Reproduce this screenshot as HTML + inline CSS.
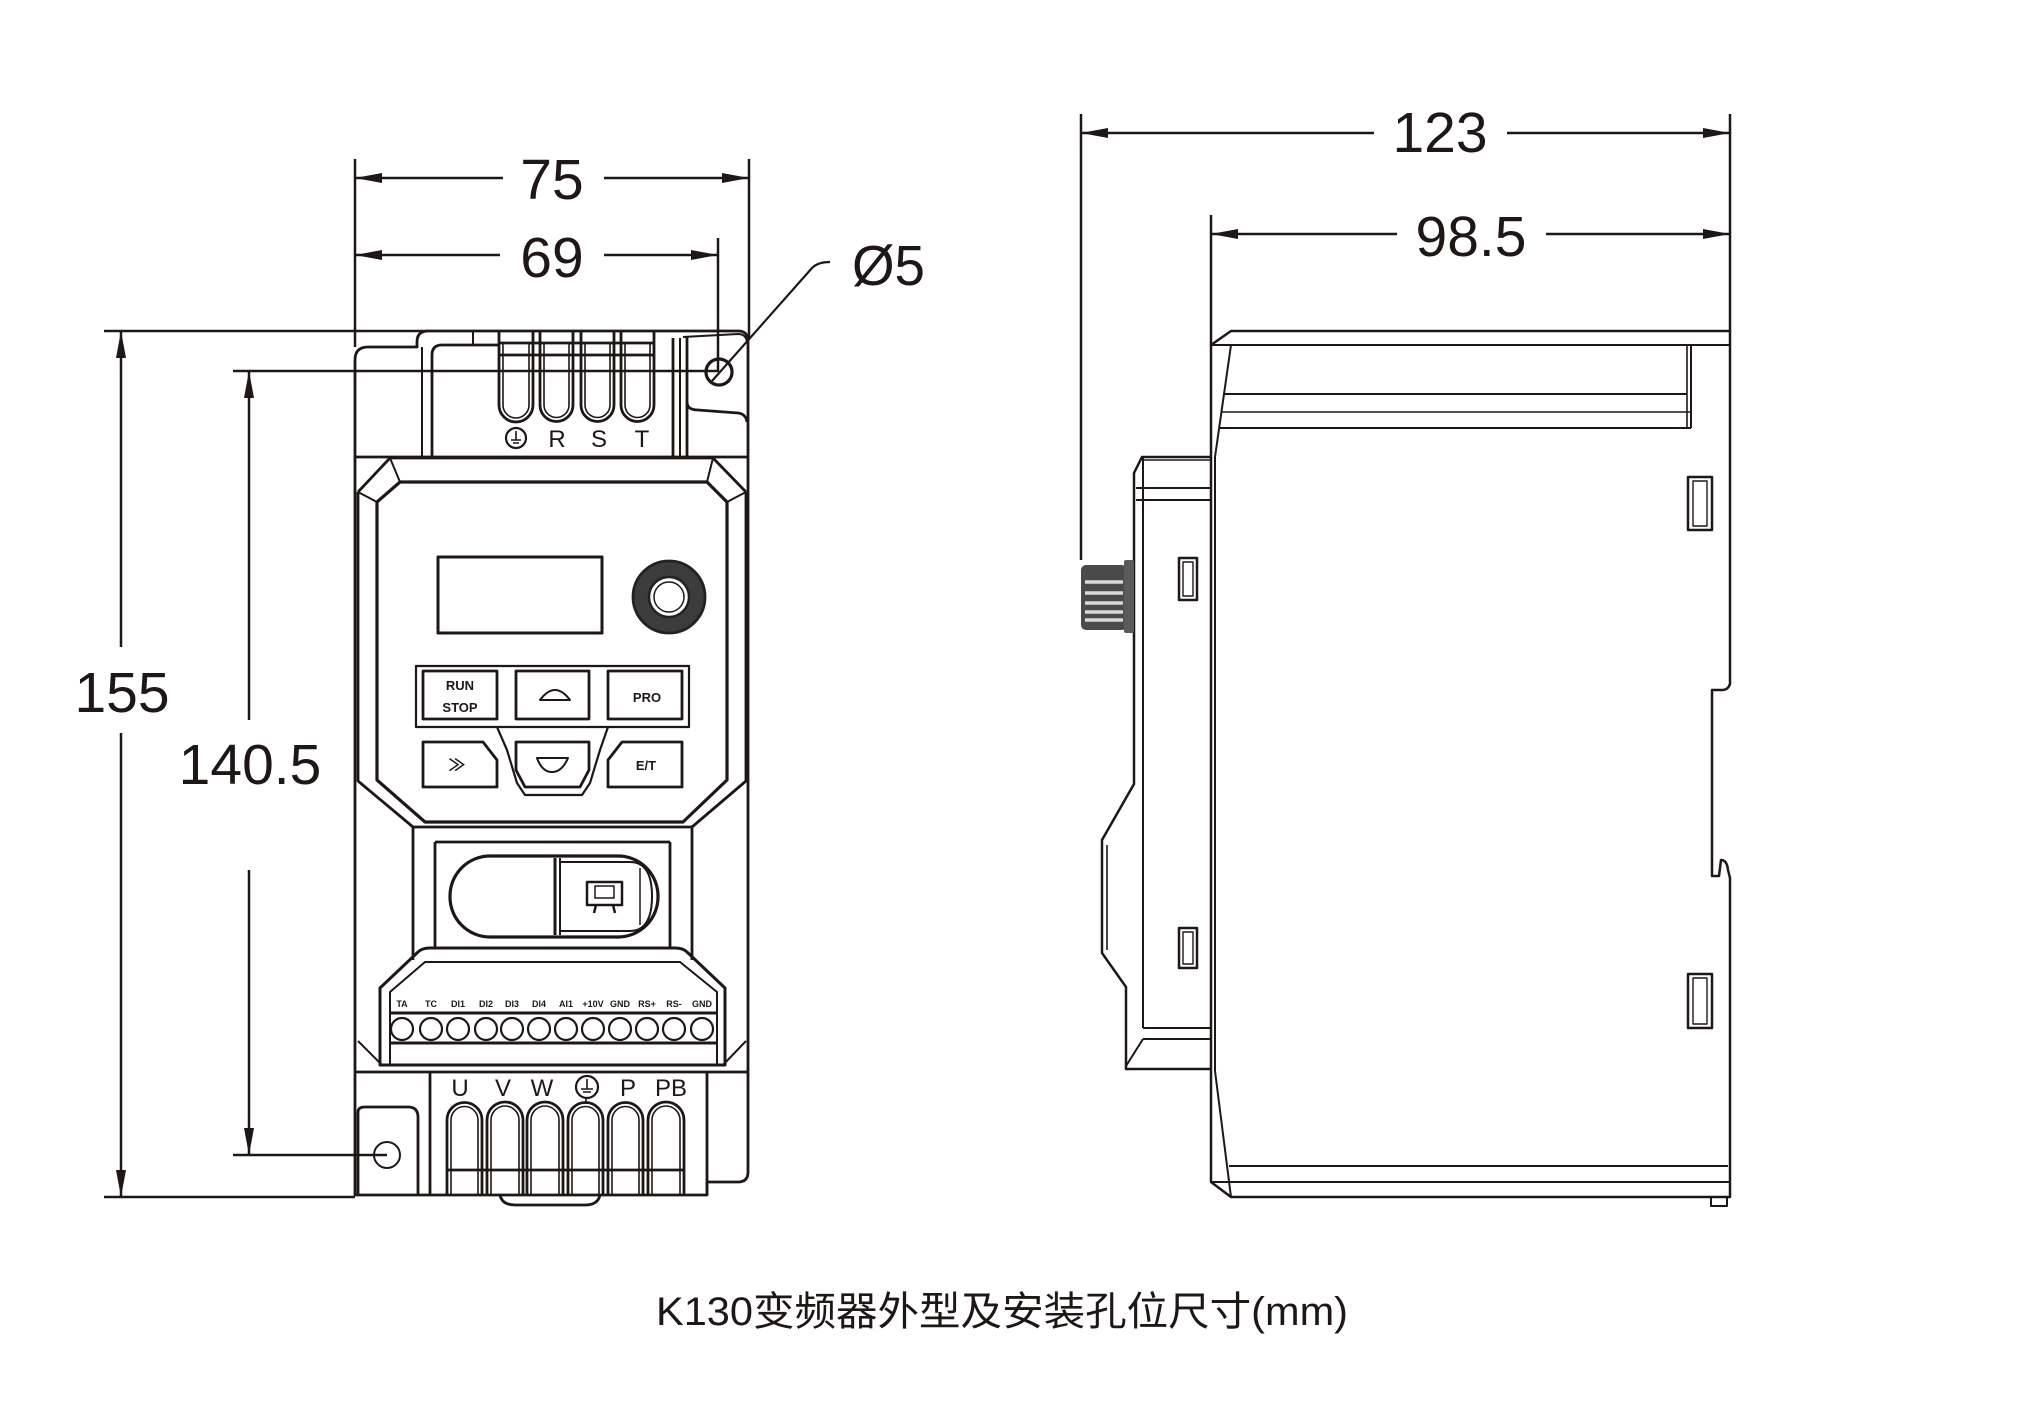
<!DOCTYPE html>
<html><head><meta charset="utf-8"><style>
html,body{margin:0;padding:0;background:#fff;}
svg{display:block;}
text{font-family:"Liberation Sans","Noto Sans CJK SC",sans-serif;fill:#1e1716;}
</style></head><body>
<svg width="2020" height="1418" viewBox="0 0 2020 1418" xmlns="http://www.w3.org/2000/svg">
<rect width="2020" height="1418" fill="#fff"/>
<g stroke="#1e1716" fill="none" stroke-width="2.5" stroke-linejoin="round">
<!-- ===== LEFT VIEW DIMENSIONS ===== -->
<line x1="355" y1="159" x2="355" y2="347"/>
<line x1="749" y1="159" x2="749" y2="338"/>
<line x1="355" y1="178" x2="503" y2="178"/>
<line x1="604" y1="178" x2="749" y2="178"/>
<line x1="355" y1="255" x2="500" y2="255"/>
<line x1="604" y1="255" x2="718" y2="255"/>
<line x1="718" y1="238" x2="718" y2="372"/>
<line x1="104" y1="331" x2="428" y2="331"/>
<line x1="121" y1="331" x2="121" y2="647"/>
<line x1="121" y1="733" x2="121" y2="1197"/>
<line x1="104" y1="1197" x2="355" y2="1197"/>
<line x1="233" y1="371" x2="718" y2="371"/>
<line x1="249" y1="371" x2="249" y2="720"/>
<line x1="249" y1="870" x2="249" y2="1155"/>
<line x1="233" y1="1155" x2="387" y2="1155"/>
<!-- leader -->
<path d="M712,381 L812,268 Q818,262 830,262" stroke-width="2.2"/>
<!-- ===== RIGHT VIEW DIMENSIONS ===== -->
<line x1="1081" y1="114" x2="1081" y2="560"/>
<line x1="1730" y1="114" x2="1730" y2="331"/>
<line x1="1081" y1="133" x2="1374" y2="133"/>
<line x1="1507" y1="133" x2="1730" y2="133"/>
<line x1="1211" y1="215" x2="1211" y2="345"/>
<line x1="1211" y1="234" x2="1397" y2="234"/>
<line x1="1546" y1="234" x2="1730" y2="234"/>
</g>
<!-- arrowheads -->
<g fill="#1e1716">
<polygon points="355,178 382,173 382,183"/>
<polygon points="749,178 722,173 722,183"/>
<polygon points="355,255 382,250 382,260"/>
<polygon points="718,255 691,250 691,260"/>
<polygon points="121,331 116,358 126,358"/>
<polygon points="121,1197 116,1170 126,1170"/>
<polygon points="249,371 244,398 254,398"/>
<polygon points="249,1155 244,1128 254,1128"/>
<polygon points="1081,133 1108,128 1108,138"/>
<polygon points="1730,133 1703,128 1703,138"/>
<polygon points="1211,234 1238,229 1238,239"/>
<polygon points="1730,234 1703,229 1703,239"/>
</g>
<!-- dimension texts -->
<g font-size="57" text-anchor="middle">
<text x="552" y="199">75</text>
<text x="552" y="277">69</text>
<text x="122" y="712">155</text>
<text x="250" y="784">140.5</text>
<text x="1440" y="152">123</text>
<text x="1471" y="256">98.5</text>
</g>
<text x="852" y="285" font-size="57" textLength="73" lengthAdjust="spacingAndGlyphs">Ø5</text>

<!-- ===== LEFT VIEW BODY ===== -->
<g stroke="#1e1716" fill="none" stroke-width="2.8" stroke-linejoin="round">
<path d="M355,1195 L355,360 Q355,347 368,347 L417,347 L417,342 Q417,331 428,331 L738,331 Q748,331 748,341 L748,1172 Q748,1182 738,1182 L707,1182 L707,1195 Z"/>
<path d="M500,1195 Q502,1205 515,1205 L585,1205 Q598,1205 600,1195"/>
<!-- top terminal housing -->
<line x1="422" y1="347" x2="422" y2="457" stroke-width="2"/>
<path d="M432,457 L432,355 Q432,345 442,345 L498,345"/>
<line x1="473" y1="331" x2="473" y2="344" stroke-width="2"/>
<line x1="673" y1="338" x2="673" y2="457"/>
<line x1="680" y1="338" x2="680" y2="457" stroke-width="2"/>
<line x1="687" y1="337" x2="687" y2="457"/>
<path d="M687,402 Q687,410 698,410 L738,413 Q746,414 747,422"/>
<path d="M683,337 L738,334 Q746,334 747,342" stroke-width="2"/>
<!-- slots top -->
<path d="M499,331 V405 A17,17 0 0 0 533,405 V331"/>
<path d="M540,331 V405 A16.5,16.5 0 0 0 573,405 V331"/>
<path d="M581,331 V405 A16.5,16.5 0 0 0 614,405 V331"/>
<path d="M621,331 V405 A16.5,16.5 0 0 0 654,405 V331"/>
<g stroke-width="1.6">
<path d="M503,343 V405 A13,13 0 0 0 529,405 V343"/>
<path d="M544,343 V405 A12.5,12.5 0 0 0 569,405 V343"/>
<path d="M585,343 V405 A12.5,12.5 0 0 0 610,405 V343"/>
<path d="M625,343 V405 A12.5,12.5 0 0 0 650,405 V343"/>
</g>
<line x1="499" y1="343" x2="654" y2="343"/>
<line x1="499" y1="355" x2="654" y2="355"/>
<line x1="355" y1="457" x2="748" y2="457"/>
<!-- mounting hole top -->
<circle cx="719" cy="372" r="13" stroke-width="3.2"/>
<!-- keypad bevel -->
<path d="M358,492 L390,458 L713,458 L746,492"/>
<path d="M358,492 L358,781 L413,827"/>
<path d="M746,492 L746,781 L692,827"/>
<path d="M400,482 L707,482 L727,502 L727,780 L683,822 L425,822 L377,780 L377,502 Z" stroke-width="3.2"/>
<line x1="390" y1="458" x2="400" y2="482" stroke-width="2"/>
<line x1="713" y1="458" x2="707" y2="482" stroke-width="2"/>
<line x1="358" y1="492" x2="377" y2="502" stroke-width="2"/>
<line x1="746" y1="492" x2="727" y2="502" stroke-width="2"/>
<!-- display -->
<rect x="438" y="557" width="164" height="76" stroke-width="3"/>
<!-- button panel -->
<rect x="416" y="666" width="273" height="61" stroke-width="2.2"/>
<rect x="423" y="671" width="74" height="48"/>
<rect x="516" y="671" width="73" height="48"/>
<rect x="608" y="671" width="74" height="48"/>
<path d="M497,727 L507,750 L517,783 L525,795 L582,795 L590,783 L600,750 L608,727" stroke-width="2.2"/>
<path d="M423,742 L483,742 L497,760 L497,787 L423,787 Z"/>
<path d="M516,742 L589,742 L589,770 L580,787 L525,787 L516,770 Z"/>
<path d="M622,742 L682,742 L682,787 L608,787 L608,760 Z"/>
<path d="M540,700 Q555,680 570,700 Z" stroke-width="2"/>
<path d="M537,758 L568,758 Q562,772 552,772 Q542,772 537,758 Z" stroke-width="2"/>
<!-- knob -->
<circle cx="669" cy="597" r="36" fill="#3c3c3c" stroke="#222"/>
<circle cx="669" cy="597" r="20" fill="#fff" stroke="#222" stroke-width="2.5"/>
<circle cx="669" cy="597" r="15" stroke-width="1.5"/>
<!-- neck -->
<line x1="413" y1="827" x2="692" y2="827"/>
<line x1="435" y1="842" x2="670" y2="842"/>
<line x1="413" y1="827" x2="413" y2="960"/>
<line x1="435" y1="842" x2="435" y2="948"/>
<line x1="670" y1="842" x2="670" y2="948"/>
<line x1="692" y1="827" x2="692" y2="960"/>
<!-- pill -->
<rect x="450" y="856" width="208" height="81" rx="40" stroke-width="3.2"/>
<path d="M560,862 L630,862 Q652,862 652,896 Q652,931 630,931 L560,931" stroke-width="2"/>
<line x1="555" y1="858" x2="555" y2="935" stroke-width="3"/>
<line x1="560" y1="858" x2="560" y2="935" stroke-width="2"/>
<line x1="640" y1="868" x2="640" y2="925" stroke-width="1.5"/>
<rect x="587" y="882" width="35" height="23" stroke-width="2.5"/>
<rect x="595" y="886" width="19" height="12" stroke-width="1.5"/>
<path d="M596,905 L594,913 M613,905 L615,913" stroke-width="2.5"/>
<!-- control terminal block -->
<path d="M380,1065 V988 L418,952 Q422,948 430,948 L675,948 Q683,948 687,952 L725,988 V1065 Z" stroke-width="3"/>
<path d="M390,1065 V992 L425,962 L680,962 L717,992 V1065" stroke-width="2"/>
<line x1="390" y1="1013" x2="717" y2="1013" stroke-width="3"/>
<line x1="390" y1="1043" x2="717" y2="1043" stroke-width="3"/>
<line x1="355" y1="1072" x2="748" y2="1072"/>
<line x1="358" y1="1041" x2="383" y2="1066" stroke-width="2"/>
<line x1="746" y1="1041" x2="722" y2="1066" stroke-width="2"/>
<g stroke-width="2.2">
<circle cx="402" cy="1029" r="11"/><circle cx="431" cy="1029" r="11"/><circle cx="458" cy="1029" r="11"/>
<circle cx="486" cy="1029" r="11"/><circle cx="512" cy="1029" r="11"/><circle cx="539" cy="1029" r="11"/>
<circle cx="566" cy="1029" r="11"/><circle cx="593" cy="1029" r="11"/><circle cx="620" cy="1029" r="11"/>
<circle cx="647" cy="1029" r="11"/><circle cx="674" cy="1029" r="11"/><circle cx="702" cy="1029" r="11"/>
</g>
<!-- lower power terminals -->
<line x1="430" y1="1072" x2="430" y2="1195"/>
<line x1="707" y1="1072" x2="707" y2="1195"/>
<path d="M447,1195 V1120 A17.5,17.5 0 0 1 482,1120 V1195"/>
<path d="M487,1195 V1120 A18,18 0 0 1 523,1120 V1195"/>
<path d="M527,1195 V1120 A18,18 0 0 1 563,1120 V1195"/>
<path d="M568,1195 V1120 A17.5,17.5 0 0 1 603,1120 V1195"/>
<path d="M608,1195 V1120 A17.5,17.5 0 0 1 643,1120 V1195"/>
<path d="M648,1195 V1120 A18,18 0 0 1 684,1120 V1195"/>
<g stroke-width="1.6">
<path d="M451,1195 V1120 A13.5,13.5 0 0 1 478,1120 V1195"/>
<path d="M491,1195 V1120 A14,14 0 0 1 519,1120 V1195"/>
<path d="M531,1195 V1120 A14,14 0 0 1 559,1120 V1195"/>
<path d="M572,1195 V1120 A13.5,13.5 0 0 1 599,1120 V1195"/>
<path d="M612,1195 V1120 A13.5,13.5 0 0 1 639,1120 V1195"/>
<path d="M652,1195 V1120 A14,14 0 0 1 680,1120 V1195"/>
</g>
<line x1="447" y1="1170" x2="684" y2="1170"/>
<!-- left foot -->
<path d="M358,1195 V1112 Q358,1107 365,1107 L408,1107 Q418,1107 418,1117 V1195"/>
<circle cx="387" cy="1155" r="13" stroke-width="2"/>
<!-- ground symbols -->
<circle cx="516" cy="438" r="10" stroke-width="2.2"/>
<path d="M516,431 V440 M511,440 H521 M513,443 H519" stroke-width="1.6"/>
<circle cx="587" cy="1087" r="11" stroke-width="2.2"/>
<path d="M587,1079 V1089 M581,1089 H593 M583,1092 H591 M586,1098 V1104" stroke-width="1.6"/>
</g>
<!-- left view labels -->
<g font-size="24" text-anchor="middle">
<text x="557" y="447">R</text>
<text x="599" y="447">S</text>
<text x="642" y="447">T</text>
<text x="460" y="1096">U</text>
<text x="503" y="1096">V</text>
<text x="542" y="1096">W</text>
<text x="628" y="1096">P</text>
<text x="671" y="1096">PB</text>
</g>
<g font-size="13" font-weight="bold" text-anchor="middle">
<text x="460" y="690">RUN</text>
<text x="460" y="712">STOP</text>
<text x="647" y="702">PRO</text>
<text x="457" y="771" font-size="17">≫</text>
<text x="646" y="770">E/T</text>
</g>
<g font-size="9" font-weight="bold" text-anchor="middle">
<text x="402" y="1007">TA</text><text x="431" y="1007">TC</text><text x="458" y="1007">DI1</text>
<text x="486" y="1007">DI2</text><text x="512" y="1007">DI3</text><text x="539" y="1007">DI4</text>
<text x="566" y="1007">AI1</text><text x="593" y="1007">+10V</text><text x="620" y="1007">GND</text>
<text x="647" y="1007">RS+</text><text x="674" y="1007">RS-</text><text x="702" y="1007">GND</text>
</g>

<!-- ===== RIGHT VIEW BODY ===== -->
<g stroke="#1e1716" fill="none" stroke-width="2.5" stroke-linejoin="round">
<path d="M1211,345 L1231,331 L1730,331 L1730,684 Q1728,690 1722,690 L1712,690 L1712,876 L1719,876 L1721,860 Q1727,860 1728,870 L1730,878 L1730,1197 L1231,1197 L1211,1182 Z"/>
<line x1="1211" y1="345" x2="1730" y2="345" stroke-width="2"/>
<path d="M1231,345 L1215,457 L1215,1071 L1231,1197" stroke-width="2"/>
<line x1="1229" y1="1166" x2="1728" y2="1166" stroke-width="2"/>
<line x1="1211" y1="1182" x2="1730" y2="1182" stroke-width="2"/>
<line x1="1223" y1="394" x2="1687" y2="394" stroke-width="2"/>
<line x1="1221" y1="412" x2="1691" y2="412" stroke-width="1.6"/>
<line x1="1219" y1="428" x2="1691" y2="428" stroke-width="2"/>
<line x1="1687" y1="345" x2="1687" y2="428" stroke-width="1.6"/>
<line x1="1691" y1="345" x2="1691" y2="428" stroke-width="2"/>
<rect x="1711" y="1197" width="16" height="9" stroke-width="2"/>
<!-- right slots -->
<rect x="1688" y="477" width="24" height="53"/>
<rect x="1693" y="481" width="14" height="45" stroke-width="1.4"/>
<rect x="1688" y="974" width="24" height="54"/>
<rect x="1693" y="978" width="14" height="46" stroke-width="1.4"/>
<!-- front panel -->
<path d="M1211,457 L1142,457 L1134,473 L1134,784 L1102,840 L1102,953 L1126,987 L1126,1069 L1211,1069"/>
<line x1="1142" y1="460" x2="1211" y2="460" stroke-width="1.6"/>
<line x1="1143" y1="457" x2="1143" y2="1028" stroke-width="2"/>
<line x1="1136" y1="488" x2="1211" y2="488" stroke-width="2"/>
<line x1="1136" y1="500" x2="1211" y2="500" stroke-width="2"/>
<line x1="1143" y1="1028" x2="1211" y2="1028" stroke-width="2"/>
<line x1="1143" y1="1039" x2="1211" y2="1039" stroke-width="2"/>
<line x1="1143" y1="1039" x2="1126" y2="1066" stroke-width="2"/>
<line x1="1107" y1="845" x2="1107" y2="950" stroke-width="1.6"/>
<rect x="1179" y="558" width="18" height="42"/>
<rect x="1183" y="562" width="10" height="34" stroke-width="1.4"/>
<rect x="1179" y="928" width="18" height="40"/>
<rect x="1183" y="932" width="10" height="32" stroke-width="1.4"/>
</g>
<!-- knob side -->
<rect x="1081" y="565" width="46" height="65" rx="5" fill="#4a4a4a"/>
<rect x="1124" y="560" width="10" height="73" rx="2" fill="#5a5a5a"/>
<g stroke="#d8d8d8" stroke-width="3.5">
<line x1="1085" y1="582" x2="1123" y2="582"/>
<line x1="1085" y1="593" x2="1123" y2="593"/>
<line x1="1085" y1="603" x2="1123" y2="603"/>
<line x1="1085" y1="612" x2="1123" y2="612"/>
<line x1="1085" y1="620" x2="1123" y2="620"/>
</g>

<!-- caption -->
<text x="656" y="1325" font-size="40" textLength="692" lengthAdjust="spacingAndGlyphs" fill="#222">K130变频器外型及安装孔位尺寸(mm)</text>
</svg>
</body></html>
